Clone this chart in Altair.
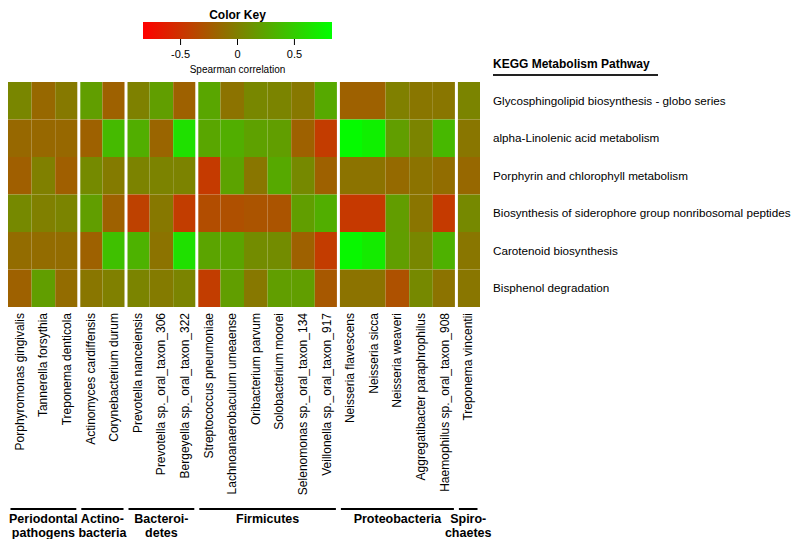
import altair as alt
import pandas as pd

# ---------------- data ----------------
taxa = [
    "Porphyromonas gingivalis", "Tannerella forsythia", "Treponema denticola",
    "Actinomyces cardiffensis", "Corynebacterium durum",
    "Prevotella nanceiensis", "Prevotella sp._oral_taxon_306", "Bergeyella sp._oral_taxon_322",
    "Streptococcus pneumoniae", "Lachnoanaerobaculum umeaense", "Oribacterium parvum",
    "Solobacterium moorei", "Selenomonas sp._oral_taxon_134", "Veillonella sp._oral_taxon_917",
    "Neisseria flavescens", "Neisseria sicca", "Neisseria weaveri",
    "Aggregatibacter paraphrophilus", "Haemophilus sp._oral_taxon_908",
    "Treponema vincentii",
]
groups = ["Periodontal\npathogens", "Actino-\nbacteria", "Bacteroi-\ndetes",
          "Firmicutes", "Proteobacteria", "Spiro-\nchaetes"]
group_sizes = [3, 2, 3, 6, 5, 1]

pathways = [
    "Glycosphingolipid biosynthesis - globo series",
    "alpha-Linolenic acid metabolism",
    "Porphyrin and chlorophyll metabolism",
    "Biosynthesis of siderophore group nonribosomal peptides",
    "Carotenoid biosynthesis",
    "Bisphenol degradation",
]

glyco = [0.04, -0.15, -0.04, 0.20, -0.20, 0.01, 0.20, -0.20, 0.25, -0.08,
         0.05, 0.03, -0.05, 0.27, -0.20, -0.20, 0.00, -0.06, -0.06, 0.03]
linolenic = [-0.15, -0.15, -0.15, -0.20, 0.38, 0.30, -0.17, 0.63, 0.25, 0.30,
             0.22, 0.20, -0.20, -0.44, 0.80, 0.73, 0.20, 0.03, 0.37, -0.06]
porphyrin = [-0.21, 0.00, -0.21, 0.07, -0.03, 0.02, 0.02, 0.02, -0.45, 0.23,
             -0.06, 0.27, 0.06, -0.20, -0.08, -0.08, -0.14, -0.08, -0.12, -0.15]
siderophore = [0.06, 0.00, 0.03, 0.20, -0.20, -0.41, -0.05, -0.43, -0.33, -0.31,
               -0.28, -0.28, 0.20, 0.30, -0.46, -0.46, 0.19, -0.07, -0.45, 0.06]
carotenoid = [-0.13, -0.13, -0.13, -0.20, 0.42, 0.33, -0.08, 0.63, 0.24, 0.24,
              0.08, 0.08, -0.20, -0.44, 0.78, 0.70, 0.20, 0.05, 0.32, -0.06]
bisphenol = [-0.20, 0.20, -0.13, -0.06, 0.00, 0.03, -0.03, 0.03, -0.43, 0.20,
             -0.05, 0.20, 0.20, -0.26, -0.08, -0.08, -0.30, 0.06, -0.08, -0.06]
rows = [glyco, linolenic, porphyrin, siderophore, carotenoid, bisphenol]

color_domain = [-0.83, 0.83]
key_ticks = [-0.5, 0.0, 0.5]
key_tick_labels = ["-0.5", "0", "0.5"]

FONT = "Liberation Sans"

# ---------------- tables ----------------
cells = pd.DataFrame([
    {"taxon": t, "pathway": p, "value": rows[r][i], "i0": i, "i1": i + 1}
    for r, p in enumerate(pathways) for i, t in enumerate(taxa)
])
labels_df = pd.DataFrame({"taxon": taxa, "imid": [i + 0.5 for i in range(len(taxa))]})

starts, ends, s = [], [], 0
for n in group_sizes:
    starts.append(s)
    s += n
    ends.append(s)
groups_df = pd.DataFrame({
    "group": groups, "g0": starts, "g1": ends,
    "gmid": [(a + b) / 2 for a, b in zip(starts, ends)],
})
sep_df = pd.DataFrame({"b": starts[1:]})
path_df = pd.DataFrame({"pathway": pathways})
key_df = pd.DataFrame({"lo": [color_domain[0]], "hi": [color_domain[1]]})
ticks_df = pd.DataFrame({"t": key_ticks, "lab": key_tick_labels})

# ---------------- scales ----------------
xs = alt.Scale(domain=[0, len(taxa)], range=[0, 472], nice=False, zero=False)
ys = alt.Scale(domain=pathways, range=[74, 299], paddingInner=0, paddingOuter=0)
ks = alt.Scale(domain=color_domain, range=[135, 324], nice=False, zero=False)
cs = alt.Scale(domain=color_domain, range=["#ff0000", "#00ff00"], interpolate="rgb")

# ---------------- heatmap part ----------------
heat = alt.Chart(cells).mark_rect().encode(
    x=alt.X("i0:Q", scale=xs, axis=None),
    x2="i1:Q",
    y=alt.Y("pathway:N", scale=ys, axis=None, sort=pathways),
    color=alt.Color("value:Q", scale=cs, legend=None),
)

seps = alt.Chart(sep_df).mark_rule(color="white", strokeWidth=3).encode(
    x=alt.X("b:Q", scale=xs, axis=None),
    y=alt.value(74), y2=alt.value(299),
)

col_labels = alt.Chart(labels_df).mark_text(
    angle=270, align="right", baseline="middle", fontSize=12, font=FONT, color="black"
).encode(
    x=alt.X("imid:Q", scale=xs, axis=None),
    y=alt.value(305),
    text="taxon:N",
)

group_lines = alt.Chart(groups_df).mark_rule(
    color="black", strokeWidth=2, xOffset=2.5, x2Offset=-2.5
).encode(
    x=alt.X("g0:Q", scale=xs, axis=None),
    x2="g1:Q",
    y=alt.value(501),
)

group_labels = alt.Chart(groups_df).mark_text(
    fontSize=12.5, fontWeight="bold", font=FONT, align="center", baseline="top",
    lineBreak="\n", lineHeight=14, color="black"
).encode(
    x=alt.X("gmid:Q", scale=xs, axis=None),
    y=alt.value(505),
    text="group:N",
)

row_labels = alt.Chart(path_df).mark_text(
    align="left", baseline="middle", fontSize=11.7, font=FONT, color="black"
).encode(
    y=alt.Y("pathway:N", scale=ys, axis=None, sort=pathways),
    x=alt.value(485),
    text="pathway:N",
)

kegg_title = alt.Chart(pd.DataFrame({"t": ["KEGG Metabolism Pathway"]})).mark_text(
    align="left", baseline="middle", fontSize=12, fontWeight="bold", font=FONT, color="black"
).encode(x=alt.value(485), y=alt.value(56), text="t:N")

kegg_line = alt.Chart(pd.DataFrame({"t": [0]})).mark_rule(
    color="#222222", strokeWidth=2
).encode(x=alt.value(485), x2=alt.value(650), y=alt.value(67))

heat_part = alt.layer(heat, seps, col_labels, group_lines, group_labels,
                      row_labels, kegg_title, kegg_line)

# ---------------- color key part ----------------
gradient = alt.LinearGradient(
    gradient="linear",
    stops=[alt.GradientStop(color="#ff0000", offset=0),
           alt.GradientStop(color="#00ff00", offset=1)],
    x1=0, x2=1, y1=0, y2=0,
)
key_bar = alt.Chart(key_df).mark_rect(color=gradient).encode(
    x=alt.X("lo:Q", scale=ks, axis=None),
    x2="hi:Q",
    y=alt.value(14), y2=alt.value(31),
)
key_ticks_m = alt.Chart(ticks_df).mark_rule(color="black", strokeWidth=1).encode(
    x=alt.X("t:Q", scale=ks, axis=None),
    y=alt.value(31), y2=alt.value(37),
)
key_labels = alt.Chart(ticks_df).mark_text(
    fontSize=11, font=FONT, baseline="middle", align="center", color="black"
).encode(
    x=alt.X("t:Q", scale=ks, axis=None),
    y=alt.value(47),
    text="lab:N",
)
key_title = alt.Chart(pd.DataFrame({"t": ["Color Key"]})).mark_text(
    fontSize=12, fontWeight="bold", font=FONT, baseline="middle", align="center", color="black"
).encode(x=alt.datum(0, scale=ks), y=alt.value(7), text="t:N")
key_sub = alt.Chart(pd.DataFrame({"t": ["Spearman correlation"]})).mark_text(
    fontSize=10, font=FONT, baseline="middle", align="center", color="black"
).encode(x=alt.datum(0, scale=ks), y=alt.value(62), text="t:N")

key_part = alt.layer(key_bar, key_ticks_m, key_labels, key_title, key_sub)

chart = alt.layer(key_part, heat_part).resolve_scale(
    x="independent"
).properties(
    width=784, height=531,
    autosize=alt.AutoSizeParams(type="none"),
    padding=0,
).configure_view(stroke=None)

chart.save("out.html", embed_options={"renderer": "svg", "actions": False})
